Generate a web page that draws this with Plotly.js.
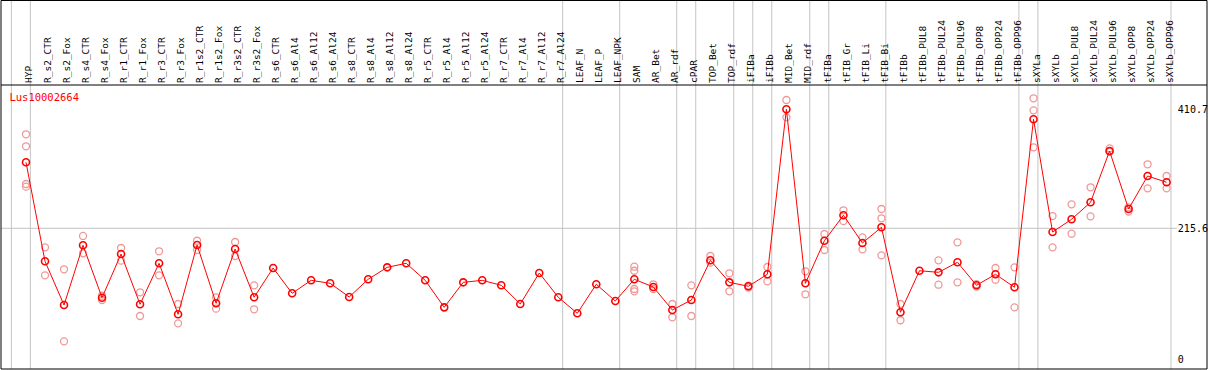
<!DOCTYPE html>
<html><head><meta charset="utf-8">
<script src="https://cdn.plot.ly/plotly-3.0.1.min.js"></script>
<style>html,body{margin:0;padding:0;background:#fff}#chart{width:1209px;height:370px}</style>
</head><body><div id="chart"></div>
<script>
const geneName = 'Lus10002664';
const categories = ['HYP','R_s2_CTR','R_s2_Fox','R_s4_CTR','R_s4_Fox','R_r1_CTR','R_r1_Fox','R_r3_CTR','R_r3_Fox','R_r1s2_CTR','R_r1s2_Fox','R_r3s2_CTR','R_r3s2_Fox','R_s6_CTR','R_s6_Al4','R_s6_Al12','R_s6_Al24','R_s8_CTR','R_s8_Al4','R_s8_Al12','R_s8_Al24','R_r5_CTR','R_r5_Al4','R_r5_Al12','R_r5_Al24','R_r7_CTR','R_r7_Al4','R_r7_Al12','R_r7_Al24','LEAF_N','LEAF_P','LEAF_NPK','SAM','AR_Bet','AR_rdf','cPAR','TOP_Bet','TOP_rdf','iFIBa','iFIBb','MID_Bet','MID_rdf','tFIBa','tFIB_Gr','tFIB_Li','tFIB_Bi','tFIBb','tFIBb_PUL8','tFIBb_PUL24','tFIBb_PUL96','tFIBb_OPP8','tFIBb_OPP24','tFIBb_OPP96','sXYLa','sXYLb','sXYLb_PUL8','sXYLb_PUL24','sXYLb_PUL96','sXYLb_OPP8','sXYLb_OPP24','sXYLb_OPP96'];
const meanValues = [323.8,161.5,89.8,187.7,101.8,173.4,91.0,158.2,74.6,188.2,92.6,181.6,102.5,150.5,109.0,130.3,125.4,103.0,132.0,151.6,158.2,130.3,86.0,127.0,130.3,122.1,91.5,142.3,102.5,76.2,123.8,96.4,132.0,119.3,81.6,98.0,163.1,127.0,120.5,140.2,410.7,125.4,195.2,236.9,191.5,217.2,77.9,146.0,143.4,159.8,122.1,140.2,118.9,394.3,209.5,230.3,258.2,342.3,247.2,301.3,291.0];
const replicates = [
  [369.7,350.0,288.2,283.8],[184.4,138.5],[148.4,30.3],[203.0,174.6],[98.0,105.0],
  [183.3,162.5],[110.7,71.8],[177.9,138.5],[91.5,59.8],[195.2,180.0],
  [102.5,83.8],[193.1,170.2],[122.1,82.8],[],[],
  [],[],[],[],[],
  [],[],[],[],[],
  [],[],[],[],[],
  [],[],[152.6,146.0,116.1,112.3],[123.8,116.1],[91.5,69.7],
  [122.1,71.8],[170.2,159.2],[141.8,112.3],[121.5,118.5],[152.1,128.7],
  [425.9,397.5],[145.1,107.4],[206.2,180.0],[245.1,227.5],[200.8,181.1],
  [247.2,232.0,171.3],[91.5,64.8],[],[163.1,123.1],[192.6,127.0],
  [124.0,120.0],[150.5,131.3],[151.6,86.0],[428.7,409.0,348.4],[235.7,184.4],
  [254.9,206.7],[282.8,235.2],[346.7,341.1],[250.0,243.0],[320.5,281.1],
  [301.3,281.1]
];
const groupEndCategories = ['HYP','R_r7_Al24','LEAF_NPK','AR_rdf','cPAR','TOP_rdf','iFIBa','iFIBb','MID_rdf','tFIBa','tFIB_Bi','tFIBb_OPP96','sXYLa','sXYLb_OPP96'];
const yTickValues = [0, 215.6, 410.7];
const yTickLabels = ['0', '215.6', '410.7'];

const W = 1209, H = 370;
const mL = 1, mR = 2, mT = 85, mB = 1;
const plotH = H - mT - mB;
const topPaper = 1 + mT / plotH;

const xIdx = categories.map((c, i) => i);
const repX = [], repY = [];
replicates.forEach((arr, i) => arr.forEach(v => { repX.push(i); repY.push(v); }));

const mono = 'DejaVu Sans Mono, monospace';
const gridColor = '#c4c4c4';
const groupOffset = 0.23;

const shapes = [];
const boundaries = [-1].concat(groupEndCategories.map(c => categories.indexOf(c)));
boundaries.forEach(b => shapes.push({type:'line', layer:'below', xref:'x', yref:'paper', x0:b+groupOffset, x1:b+groupOffset, y0:0, y1:topPaper, line:{color:gridColor, width:1}}));
shapes.push({type:'line', layer:'below', xref:'paper', yref:'y', x0:0, x1:0.975, y0:yTickValues[1], y1:yTickValues[1], line:{color:gridColor, width:1}});
shapes.push({type:'rect', xref:'paper', yref:'paper', x0:0, x1:1, y0:0, y1:topPaper - 0.5/plotH, line:{color:'#000', width:1}});
shapes.push({type:'line', xref:'paper', yref:'paper', x0:0, x1:1, y0:1, y1:1, line:{color:'#000', width:1}});

const traces = [
  {x: repX, y: repY, type:'scatter', mode:'markers', hoverinfo:'skip',
   marker:{symbol:'circle-open', size:7, color:'#f09898', line:{width:1.3, color:'#f09898'}}},
  {x: xIdx, y: meanValues, type:'scatter', mode:'lines+markers',
   line:{color:'#ff0000', width:1},
   marker:{symbol:'circle-open', size:7, color:'#ff0000', line:{width:1.6, color:'#ff0000'}}}
];

const layout = {
  width: W, height: H,
  margin: {l:mL, r:mR, t:mT, b:mB, pad:0},
  paper_bgcolor:'#fff', plot_bgcolor:'#fff',
  showlegend:false,
  font:{family:mono, size:10, color:'#000'},
  title:{text:geneName, font:{family:mono, size:10.5, color:'#ff0000'}, xref:'paper', yref:'paper', x:0.007, xanchor:'left', y:1 - 12/plotH, yanchor:'middle'},
  xaxis:{type:'linear', side:'top', range:[-1.315, 62.125], tickvals:xIdx, ticktext:categories, tickangle:-90,
         ticklabelshift:3, ticklabelstandoff:1,
         tickfont:{family:mono, size:9.5, color:'#000'}, ticks:'', showgrid:false, zeroline:false, showline:false, automargin:false},
  yaxis:{range:[-15.08, 450.5], side:'right', anchor:'free', position:0.975, tickvals:yTickValues, ticktext:yTickLabels,
         tickfont:{family:mono, size:10, color:'#000'}, ticks:'', showgrid:false, zeroline:false, showline:false, automargin:false},
  shapes: shapes
};
Plotly.newPlot('chart', traces, layout, {staticPlot:true, displayModeBar:false});
</script>
</body></html>
